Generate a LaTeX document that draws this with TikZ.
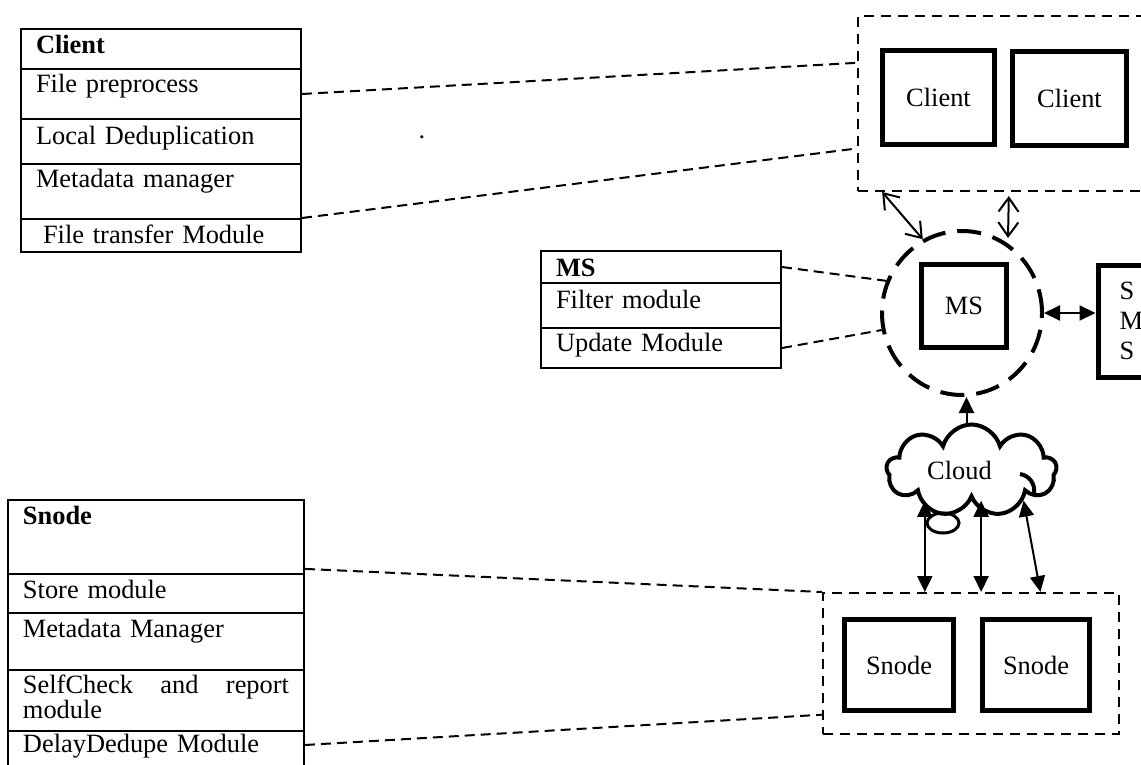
\documentclass[tikz,border=0pt]{standalone}
\usepackage{fontspec}
\setmainfont{Liberation Serif}
\usetikzlibrary{arrows.meta,calc,shapes.geometric,shapes.symbols}

\begin{document}
\begin{tikzpicture}[
  x=0.5pt, y=-0.5pt,
  font=\fontsize{13.2pt}{15pt}\selectfont,
  row/.style={draw, line width=1pt, anchor=north west, inner xsep=7.5pt, inner ysep=0pt, text width=#1, align=left},
  unit/.style={draw, line width=2.5pt, inner sep=0pt},
  grp/.style={draw, line width=1pt, dash pattern=on 5pt off 3.5pt, inner sep=0pt, anchor=north west},
  link/.style={line width=1pt, dash pattern=on 5pt off 3pt},
  ring/.style={draw, ellipse, line width=2pt, dash pattern=on 12pt off 6pt, inner sep=0pt},
  barb/.style={{Straight Barb[length=7pt,width=10pt]}-{Straight Barb[length=7pt,width=10pt]}, line width=1pt},
  dbl/.style={{Triangle[length=8pt,width=7.5pt]}-{Triangle[length=8pt,width=7.5pt]}, line width=1pt}
]
  \useasboundingbox (0,0) rectangle (1141,765);
  \clip (0,0) rectangle (1141,765);

  % client modules
  \node[row=125pt, text height=12.5pt, text depth=7.5pt] (crow1) at (20,28) {\textbf{Client}};
  \node[row=125pt, text height=12pt, text depth=13pt] (crow2) at (20,68) {File preprocess};
  \node[row=125pt, text height=13pt, text depth=9.5pt] (crow3) at (20,118) {Local Deduplication};
  \node[row=125pt, text height=12pt, text depth=15.5pt] (crow4) at (20,163) {Metadata manager};
  \node[row=125pt, text height=12pt, text depth=4.5pt] (crow5) at (20,218) {\hspace*{3.5pt}File transfer Module};
  \node[anchor=base, inner sep=0pt] (dot) at (422,139) {.};

  % MS modules
  \node[row=105pt, text height=12.5pt, text depth=3.5pt] (mrow1) at (540,250) {\textbf{MS}};
  \node[row=105pt, text height=12.5pt, text depth=10pt] (mrow2) at (540,282) {Filter module};
  \node[row=105pt, text height=11.5pt, text depth=8.5pt] (mrow3) at (540,327) {Update Module};

  % Snode modules
  \node[row=133pt, text height=12pt, text depth=25pt] (srow1) at (7,499) {\textbf{Snode}};
  \node[row=133pt, text height=12pt, text depth=7.5pt] (srow2) at (7,573) {Store module};
  \node[row=133pt, text height=12pt, text depth=16.5pt] (srow3) at (7,612) {Metadata Manager};
  \node[row=133pt, text height=11.5pt, text depth=19pt, font=\fontsize{13.2pt}{11.5pt}\selectfont] (srow4) at (7,669) {SelfCheck\hfill and\hfill report\\module};
  \node[row=133pt, text height=10.5pt, text depth=24.5pt] (srow5) at (7,730) {DelayDedupe Module};

  % clients
  \node[grp, minimum width=151.5pt, minimum height=87.5pt] (cgrp) at (857,15) {};
  \node[unit, minimum width=56pt, minimum height=47pt] (cbox1) at (938.5,97.5) {Client};
  \node[unit, minimum width=57pt, minimum height=47pt] (cbox2) at (1069.5,98.5) {Client};

  % MS and SMS
  \node[unit, minimum width=42.5pt, minimum height=41.5pt] (ms) at (964,306) {MS};
  \node[ring, minimum width=80pt, minimum height=82pt] (msring) at (962,313) {};
  \node[unit, anchor=north west, minimum width=40pt, minimum height=56pt, inner xsep=10.75pt, text width=18.5pt, align=left] (sms) at (1095.5,262.5) {S\\M\\S};

  % cloud
  \node[draw, cloud, cloud puffs=9, line width=2pt, minimum width=85pt, minimum height=46pt, inner sep=0pt, label={[xshift=-6pt]center:Cloud}] (cloud) at (971.5,470.5) {};
  \node[draw, ellipse, line width=1.5pt, minimum width=16pt, minimum height=10pt, inner sep=0pt] (swirl) at (943,523) {};
  \draw[line width=2pt] (1020,474) to[bend left=45] (1034,493);

  % storage nodes
  \node[grp, minimum width=148pt, minimum height=70.5pt] (sgrp) at (822,592) {};
  \node[unit, minimum width=54.5pt, minimum height=45.5pt] (snode1) at (899,665) {Snode};
  \node[unit, minimum width=53.5pt, minimum height=45.5pt] (snode2) at (1036,665) {Snode};

  % dashed callouts
  \draw[link] (crow2.east) -- ($(cgrp.north west)!0.27!(cgrp.south west)$);
  \draw[link] (crow5.north east) -- ($(cgrp.north west)!0.754!(cgrp.south west)$);
  \draw[link] (mrow1.east) -- (msring.157);
  \draw[link] (mrow3.east) -- (msring.192);
  \draw[link] ($(srow1.north east)!0.92!(srow1.south east)$) -- (sgrp.north west);
  \draw[link] ($(srow5.north east)+(0,15)$) -- ($(sgrp.north west)!0.858!(sgrp.south west)$);

  % arrows
  \coordinate (m2) at (1008,238);
  \draw[barb] ($(cgrp.south west)!0.0825!(cgrp.south east)$) -- (msring.118);
  \draw[barb, shorten <=2pt] ($(cgrp.south west)!0.498!(cgrp.south east)$) -- (m2);
  \draw[dbl] (msring.east) -- (msring.east -| sms.west);
  \coordinate (cup) at ($(cloud.north)+(-5,0)$);
  \draw[line width=1pt, -{Triangle[length=8pt,width=7.5pt]}] (cup) -- (cup |- msring.south);
  \coordinate (s1) at ($(sgrp.north west)!0.345!(sgrp.north east)$);
  \coordinate (s2) at ($(sgrp.north west)!0.534!(sgrp.north east)$);
  \coordinate (s3) at ($(sgrp.north west)!0.733!(sgrp.north east)$);
  \draw[dbl] (s1 |- cloud.south) -- (s1);
  \draw[dbl] (s2 |- cloud.south) -- (s2);
  \draw[dbl] (cloud.-30) -- (s3);
\end{tikzpicture}
\end{document}
